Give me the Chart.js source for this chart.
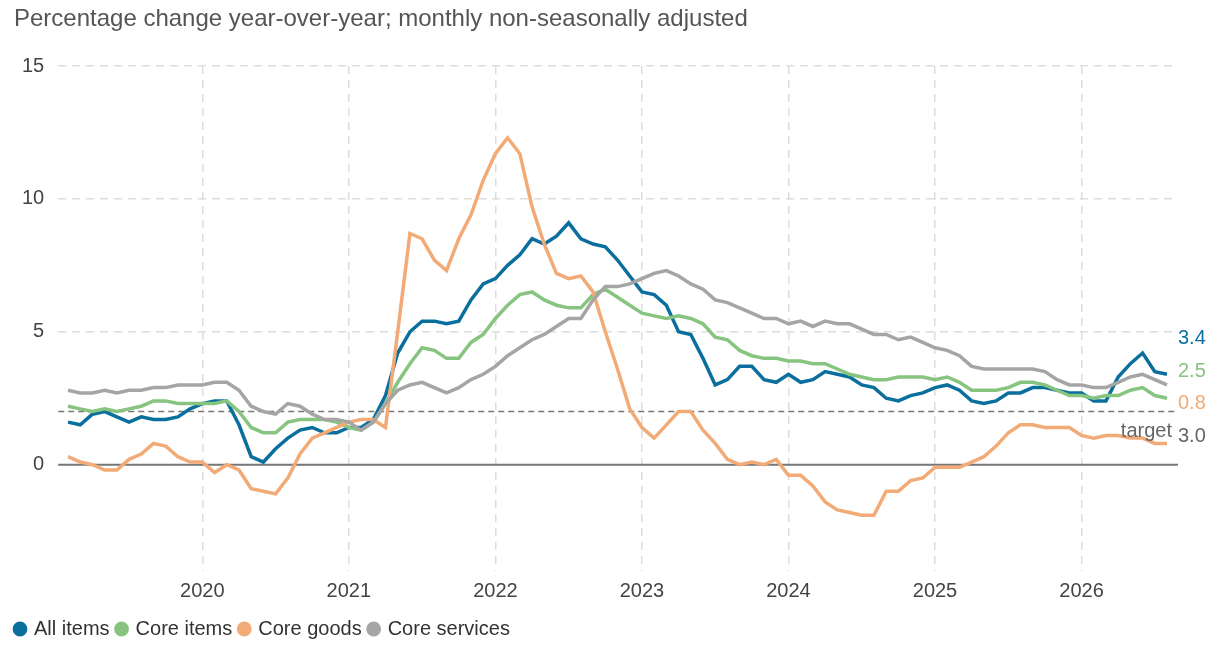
<!DOCTYPE html>
<html><head><meta charset="utf-8">
<script src="https://cdn.jsdelivr.net/npm/chart.js@4/dist/chart.umd.min.js"></script>
<style>html,body{margin:0;padding:0;background:#fff;overflow:hidden}#wrap{width:1216px;height:649px;position:relative}</style>
</head><body><div id="wrap"><canvas id="c" width="1216" height="649" style="width:1216px;height:649px"></canvas></div>
<script>
const startLabel = "2019-02";
const yearTicks = ["2020","2021","2022","2023","2024","2025","2026"];
const allItems = [1.6,1.5,1.9,2.0,1.8,1.6,1.8,1.7,1.7,1.8,2.1,
 2.3,2.4,2.4,1.5,0.3,0.1,0.6,1.0,1.3,1.4,1.2,1.2,
 1.4,1.4,1.7,2.6,4.2,5.0,5.4,5.4,5.3,5.4,6.2,6.8,
 7.0,7.5,7.9,8.5,8.3,8.6,9.1,8.5,8.3,8.2,7.7,7.1,
 6.5,6.4,6.0,5.0,4.9,4.0,3.0,3.2,3.7,3.7,3.2,3.1,
 3.4,3.1,3.2,3.5,3.4,3.3,3.0,2.9,2.5,2.4,2.6,2.7,
 2.9,3.0,2.8,2.4,2.3,2.4,2.7,2.7,2.9,2.9,2.8,2.7,
 2.7,2.4,2.4,3.3,3.8,4.2,3.5,3.4];
const coreItems = [2.2,2.1,2.0,2.1,2.0,2.1,2.2,2.4,2.4,2.3,2.3,
 2.3,2.3,2.4,2.0,1.4,1.2,1.2,1.6,1.7,1.7,1.7,1.6,
 1.4,1.3,1.6,2.3,3.1,3.8,4.4,4.3,4.0,4.0,4.6,4.9,
 5.5,6.0,6.4,6.5,6.2,6.0,5.9,5.9,6.4,6.6,6.3,6.0,
 5.7,5.6,5.5,5.6,5.5,5.3,4.8,4.7,4.3,4.1,4.0,4.0,
 3.9,3.9,3.8,3.8,3.6,3.4,3.3,3.2,3.2,3.3,3.3,3.3,
 3.2,3.3,3.1,2.8,2.8,2.8,2.9,3.1,3.1,3.0,2.8,2.6,
 2.6,2.5,2.6,2.6,2.8,2.9,2.6,2.5];
const coreGoods = [0.3,0.1,0.0,-0.2,-0.2,0.2,0.4,0.8,0.7,0.3,0.1,
 0.1,-0.3,0.0,-0.2,-0.9,-1.0,-1.1,-0.5,0.4,1.0,1.2,1.4,
 1.6,1.7,1.7,1.4,5.0,8.7,8.5,7.7,7.3,8.5,9.4,10.7,
 11.7,12.3,11.7,9.7,8.3,7.2,7.0,7.1,6.5,5.0,3.6,2.1,
 1.4,1.0,1.5,2.0,2.0,1.3,0.8,0.2,0.0,0.1,0.0,0.2,
 -0.4,-0.4,-0.8,-1.4,-1.7,-1.8,-1.9,-1.9,-1.0,-1.0,-0.6,-0.5,
 -0.1,-0.1,-0.1,0.1,0.3,0.7,1.2,1.5,1.5,1.4,1.4,1.4,
 1.1,1.0,1.1,1.1,1.0,1.0,0.8,0.8];
const coreServices = [2.8,2.7,2.7,2.8,2.7,2.8,2.8,2.9,2.9,3.0,3.0,
 3.0,3.1,3.1,2.8,2.2,2.0,1.9,2.3,2.2,1.9,1.7,1.7,
 1.6,1.3,1.6,2.3,2.8,3.0,3.1,2.9,2.7,2.9,3.2,3.4,
 3.7,4.1,4.4,4.7,4.9,5.2,5.5,5.5,6.2,6.7,6.7,6.8,
 7.0,7.2,7.3,7.1,6.8,6.6,6.2,6.1,5.9,5.7,5.5,5.5,
 5.3,5.4,5.2,5.4,5.3,5.3,5.1,4.9,4.9,4.7,4.8,4.6,
 4.4,4.3,4.1,3.7,3.6,3.6,3.6,3.6,3.6,3.5,3.2,3.0,
 3.0,2.9,2.9,3.1,3.3,3.4,3.2,3.0];
const seriesNames = ["All items","Core items","Core goods","Core services"];
const colors = ["#0b6f9e","#86c47f","#f2aa76","#a5a5a5"];
const targetValue = 2;

const toPts = arr => arr.map((v,i)=>({x:i,y:v}));
const series = [allItems, coreItems, coreGoods, coreServices];
const labelY = [4.75, 3.5, 2.3, 1.05];
const FONT = '"Liberation Sans", Arial, sans-serif';

const extras = {
  id:'extras',
  beforeDatasetsDraw(ch){
    const {ctx, chartArea:a, scales:{x,y}} = ch;
    ctx.save();
    ctx.strokeStyle='#777'; ctx.lineWidth=1.5; ctx.setLineDash([6,4]);
    ctx.beginPath(); ctx.moveTo(a.left,y.getPixelForValue(targetValue)); ctx.lineTo(a.right,y.getPixelForValue(targetValue)); ctx.stroke();
    ctx.setLineDash([]); ctx.lineWidth=2;
    ctx.beginPath(); ctx.moveTo(a.left,y.getPixelForValue(0)); ctx.lineTo(a.right,y.getPixelForValue(0)); ctx.stroke();
    ctx.restore();
  },
  afterDraw(ch){
    const {ctx, chartArea:a, scales:{x,y}} = ch;
    ctx.save();
    ctx.font='24px '+FONT; ctx.fillStyle='#555'; ctx.textBaseline='middle';
    ctx.fillText('Percentage change year-over-year; monthly non-seasonally adjusted', 14, 19);
    ctx.font='20px '+FONT;
    series.forEach((s,i)=>{
      ctx.fillStyle = i===3 ? '#666' : colors[i];
      ctx.fillText(s[s.length-1].toFixed(1), a.right, y.getPixelForValue(labelY[i]));
    });
    ctx.fillStyle='#666'; ctx.textAlign='right';
    ctx.fillText('target', a.right-6, y.getPixelForValue(1.25));
    ctx.restore();
  }
};

new Chart(document.getElementById('c'), {
  type:'line',
  data:{datasets: series.map((s,i)=>({label:seriesNames[i], data:toPts(s), borderColor:colors[i], backgroundColor:colors[i], borderWidth:3.5, pointRadius:0, tension:0})).reverse()},
  options:{
    responsive:false, animation:false, devicePixelRatio:1,
    layout:{padding:{top:66,right:38,left:8,bottom:0}},
    plugins:{
      legend:{position:'bottom', align:'start', reverse:true,
        labels:{usePointStyle:true, pointStyle:'circle', boxWidth:8, boxHeight:8, padding:8, color:'#333', font:{size:20,family:FONT}}},
      tooltip:{enabled:false}
    },
    scales:{
      x:{type:'linear', min:-0.8, max:90.9,
        afterBuildTicks(ax){ ax.ticks = yearTicks.map((t,i)=>({value:11+12*i})); },
        ticks:{callback:(v)=>yearTicks[Math.round((v-11)/12)], color:'#444', font:{size:20,family:FONT}, maxRotation:0, padding:8, autoSkip:false},
        grid:{color:'#ddd', lineWidth:1.5, drawTicks:false}, border:{display:false, dash:[8,6]}},
      y:{min:-4, max:15,
        afterBuildTicks(ax){ ax.ticks=[0,5,10,15].map(v=>({value:v})); },
        ticks:{color:'#444', font:{size:20,family:FONT}, padding:14},
        grid:{color:'#ddd', lineWidth:1.5, drawTicks:false}, border:{display:false, dash:[8,6]}}
    }
  },
  plugins:[extras]
});
</script>
</body></html>
